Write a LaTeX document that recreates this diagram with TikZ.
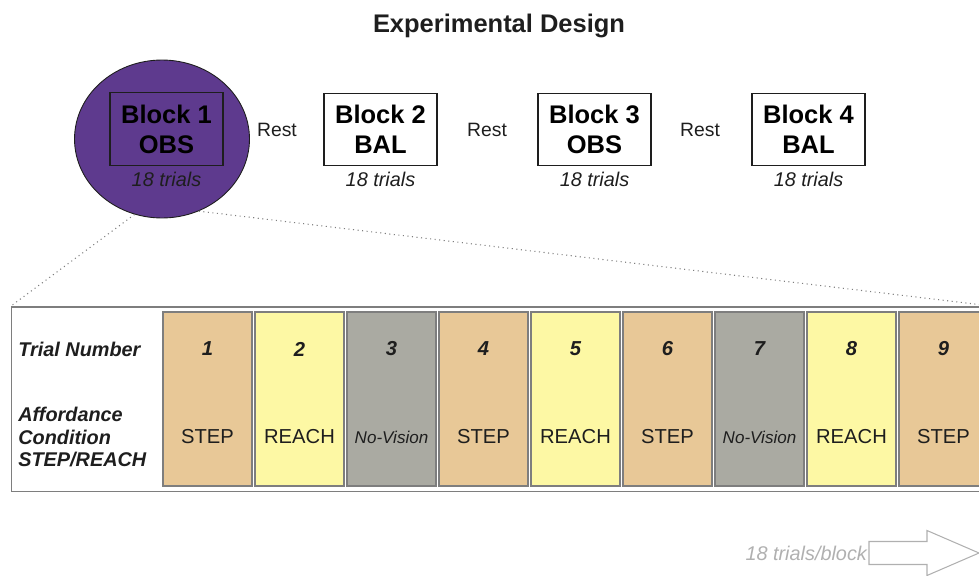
\documentclass[tikz,border=0pt]{standalone}
\usepackage{fontspec}
\setmainfont{Liberation Sans}
\usetikzlibrary{positioning,shapes.geometric,calc}
\definecolor{ink}{HTML}{1E1E1E}
\definecolor{plum}{HTML}{5E3A8E}
\definecolor{tan}{HTML}{E8C897}
\definecolor{lemon}{HTML}{FDF8A4}
\definecolor{stone}{HTML}{AAAAA2}
\definecolor{frame}{HTML}{7E7E7E}
\definecolor{faint}{HTML}{B0B0B0}
\tikzset{
  blockbox/.style={draw=ink,line width=0.6pt,minimum width=2.26cm,minimum height=1.45cm,inner sep=0,align=center,font=\fontsize{14.5}{17}\selectfont\bfseries},
  trials/.style={font=\fontsize{11.3}{13}\selectfont\itshape,text=ink},
  rest/.style={font=\fontsize{11}{13}\selectfont,text=ink},
  cell/.style={draw=frame,line width=0.7pt,minimum width=1.78cm,minimum height=3.48cm,inner sep=0},
  trialno/.style={font=\fontsize{11.5}{13}\selectfont\bfseries\itshape,text=ink},
  cond/.style={font=\fontsize{11.5}{13}\selectfont,text=ink},
  novis/.style={font=\fontsize{9.7}{11}\selectfont\itshape,text=ink},
  rowlbl/.style={font=\fontsize{11.3}{12.8}\selectfont\bfseries\itshape,text=ink,align=left,anchor=west,inner sep=0},
  zoomline/.style={draw=frame,dotted,line width=0.6pt}}

\begin{document}
\begin{tikzpicture}[x=0.02cm,y=-0.02cm]
  \useasboundingbox (0,0) rectangle (979,575);
  \clip (0,0) rectangle (979,575);
  \node[font=\fontsize{14.5}{17}\selectfont\bfseries,text=ink] (title) at (499,26) {Experimental Design};

  \node[ellipse,draw=ink,fill=plum,line width=0.5pt,minimum width=3.5cm,minimum height=3.16cm] (b1) at (162,139) {};
  \node[blockbox] (blk1) at (166.5,129) {Block 1\\OBS};
  \node[blockbox] (blk2) at (380.5,129.5) {Block 2\\BAL};
  \node[blockbox] (blk3) at (594.5,129.5) {Block 3\\OBS};
  \node[blockbox] (blk4) at (808.5,129.5) {Block 4\\BAL};
  \foreach \k in {1,...,4}
    \node[trials,below=0pt of blk\k] (tr\k) {18 trials};
  \node[rest] (rest1) at (277,130) {Rest};
  \node[rest] (rest2) at (487,130) {Rest};
  \node[rest] (rest3) at (700,130) {Rest};

  \node[draw=frame,line width=0.85pt,minimum width=19.58cm,minimum height=3.7cm,inner sep=0,anchor=north west] (panel) at (11,306) {};
  \draw[zoomline] (b1.-110) -- (panel.north west);
  \draw[zoomline] (b1.-63) -- (panel.north east);

  \node[rowlbl] (rownum) at (18,349) {Trial Number};
  \node[rowlbl] (rowcond) at (18,437) {Affordance\\Condition\\STEP/REACH};
  \foreach \i/\c/\t/\s in {1/tan/STEP/cond,2/lemon/REACH/cond,3/stone/No-Vision/novis,
      4/tan/STEP/cond,5/lemon/REACH/cond,6/tan/STEP/cond,7/stone/No-Vision/novis,
      8/lemon/REACH/cond,9/tan/STEP/cond}{
    \node[cell,fill=\c] (cell\i) at (115.5+92*\i,399) {};
    \node[trialno] (num\i) at (cell\i |- rownum) {\i};
    \node[\s] (cond\i) at (cell\i |- rowcond) {\t};}

  \node[font=\fontsize{11.3}{13}\selectfont\itshape,text=faint,anchor=east,inner sep=1pt] (perblock) at (869,553) {18 trials/block};
  \draw[faint,line width=0.6pt] (perblock.east) ++(0,-11.5) -- ++(58,0) -- ++(0,-11) -- ++(52,22.5)
    -- ++(-52,22.5) -- ++(0,-11) -- ++(-58,0) -- cycle;
\end{tikzpicture}
\end{document}
